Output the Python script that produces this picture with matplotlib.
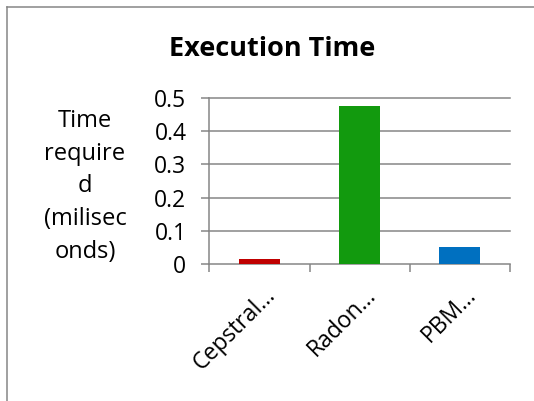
import matplotlib
matplotlib.use("Agg")
import matplotlib.pyplot as plt
import matplotlib.transforms as mtransforms
from matplotlib.lines import Line2D

categories = ["Cepstral\u2026", "Radon\u2026", "PBM\u2026"]
times_ms = [0.016, 0.475, 0.052]
bar_colors = ["#C00000", "#129A0E", "#0070C0"]
y_ticks = [0, 0.1, 0.2, 0.3, 0.4, 0.5]
y_tick_labels = ["0", "0.1", "0.2", "0.3", "0.4", "0.5"]
title = "Execution Time"
y_label = "Time\nrequire\nd\n(milisec\nonds)"

plt.rcParams["font.family"] = ["Open Sans", "DejaVu Sans"]
grid_color = "#868686"
lw = 1.1
W, H = 534, 401
fig = plt.figure(figsize=(W / 100, H / 100), dpi=100)

# chart frame (clipped at right and bottom)
fig.add_artist(Line2D([6.5 / W, 6.5 / W], [0, 1 - 6.5 / H], transform=fig.transFigure,
                      color=grid_color, lw=lw))
fig.add_artist(Line2D([6.5 / W, 1], [1 - 6.5 / H, 1 - 6.5 / H], transform=fig.transFigure,
                      color=grid_color, lw=lw))

left, right = 209.3 / W, 510 / W
top, bottom = 1 - 97.7 / H, 1 - 264.3 / H
ax = fig.add_axes([left, bottom, right - left, top - bottom])

x = list(range(1, len(categories) + 1))
ax.bar(x, times_ms, width=0.41, color=bar_colors, zorder=3)
ax.set_xlim(0.5, len(categories) + 0.5)
ax.set_ylim(0, 0.5)

for v in y_ticks[1:]:
    ax.axhline(v, color=grid_color, lw=lw, zorder=1, clip_on=False)

for s in ["top", "right"]:
    ax.spines[s].set_visible(False)
for s in ["left", "bottom"]:
    ax.spines[s].set_color(grid_color)
    ax.spines[s].set_linewidth(lw)

fs = 16.5
ax.set_yticks(y_ticks)
ax.set_yticklabels(y_tick_labels, fontsize=fs)
ax.tick_params(axis="y", length=5.5, width=lw, color=grid_color, pad=11)

ax.set_xticks(x)
ax.set_xticklabels(categories, fontsize=fs, rotation=45, ha="right",
                   rotation_mode="anchor")
ax.tick_params(axis="x", which="major", length=0, pad=16)
ax.set_xticks([i + 0.5 for i in range(0, len(categories) + 1)], minor=True)
ax.tick_params(axis="x", which="minor", length=5.8, width=lw, color=grid_color)

# nudge the rotated category labels
shift = mtransforms.ScaledTranslation(4 / 100, 3 / 100, fig.dpi_scale_trans)
for lbl in ax.get_xticklabels():
    lbl.set_transform(lbl.get_transform() + shift)

fig.text(272 / W, 1 - 49.5 / H, title, ha="center", va="center",
         fontsize=19.5, fontweight="bold")
fig.text(85 / W, 1 - 186.5 / H, y_label, ha="center", va="center",
         fontsize=17, linespacing=1.49)

fig.savefig("out.png", dpi=100)
